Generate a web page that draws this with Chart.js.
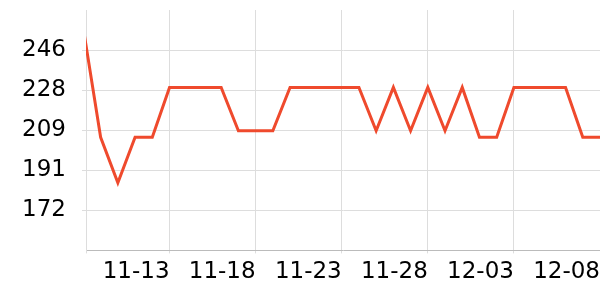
<!DOCTYPE html>
<html>
<head>
<meta charset="utf-8">
<script src="https://cdn.jsdelivr.net/npm/chart.js@4/dist/chart.umd.min.js"></script>
<style>
  html, body { margin: 0; padding: 0; background: #fff; }
  #wrap { width: 600px; height: 300px; }
</style>
</head>
<body>
<div id="wrap"><canvas id="price-chart"></canvas></div>
<script>
// 日期 (11-08 .. 12-08)
const dates = ['11-08', '11-09', '11-10', '11-11', '11-12', '11-13', '11-14', '11-15',
    '11-16', '11-17', '11-18', '11-19', '11-20', '11-21', '11-22', '11-23', '11-24',
    '11-25', '11-26', '11-27', '11-28', '11-29', '11-30', '12-01', '12-02', '12-03',
    '12-04', '12-05', '12-06', '12-07', '12-08'];

// 数值
const values = [256, 206, 185, 206, 206, 229, 229, 229, 229, 209, 209, 209, 229, 229,
    229, 229, 229, 209, 229, 209, 229, 209, 229, 206, 206, 229, 229, 229, 229, 206, 206];

// y 轴刻度
const yTickValues = [172.25, 190.75, 209.25, 227.75, 246.25];
const yTickLabels = ['172', '191', '209', '228', '246'];

const xStart = 0.15;   // x 轴从第一个点稍后开始
const yMin = 153.75;
const yMax = 264.75;

const font = { family: 'DejaVu Sans', size: 23 };

function initPriceChart() {
    const ctx = document.getElementById('price-chart');
    if (!ctx) return;

    new Chart(ctx, {
        type: 'line',
        data: {
            datasets: [{
                data: values.map((v, i) => ({ x: i, y: v })),
                borderColor: '#ef4a2d',
                borderWidth: 3,
                pointRadius: 0,
                tension: 0,
                fill: false,
                clip: 0
            }]
        },
        options: {
            responsive: true,
            maintainAspectRatio: false,
            animation: false,
            layout: {
                padding: { top: 10, right: 0, bottom: 9, left: 0 }
            },
            plugins: {
                legend: { display: false },
                tooltip: { enabled: false }
            },
            scales: {
                x: {
                    type: 'linear',
                    min: xStart,
                    max: dates.length - 1,
                    afterFit: function(scale) {
                        scale.paddingLeft = 0;
                        scale.paddingRight = 0;
                    },
                    grid: {
                        color: '#dddddd',
                        tickLength: 3
                    },
                    border: { color: '#bbbbbb' },
                    ticks: {
                        stepSize: 5,
                        autoSkip: false,
                        maxRotation: 0,
                        align: 'end',
                        padding: 5,
                        color: '#000',
                        font: font,
                        callback: function(value) {
                            return (Number.isInteger(value) && value > 0) ? dates[value] : '';
                        }
                    }
                },
                y: {
                    min: yMin,
                    max: yMax,
                    afterBuildTicks: function(scale) {
                        scale.ticks = yTickValues.map(v => ({ value: v }));
                    },
                    afterFit: function(scale) {
                        scale.width = 86;
                        scale.paddingTop = 0;
                        scale.paddingBottom = 0;
                    },
                    grid: {
                        color: '#dddddd',
                        tickLength: 4
                    },
                    border: { color: '#dddddd' },
                    ticks: {
                        padding: 16,
                        color: '#000',
                        font: font,
                        callback: function(value, index) {
                            return yTickLabels[index];
                        }
                    }
                }
            }
        }
    });
}

initPriceChart();
</script>
</body>
</html>
